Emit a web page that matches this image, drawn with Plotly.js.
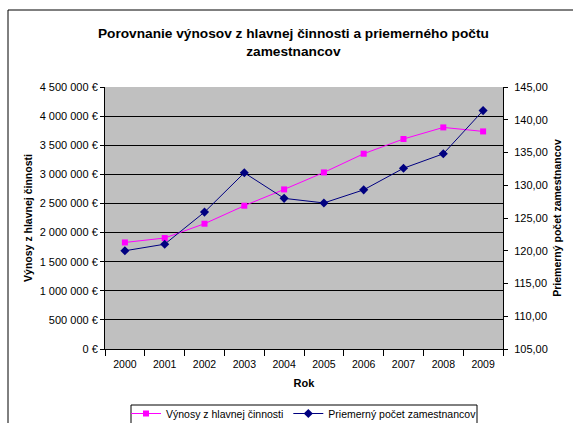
<!DOCTYPE html>
<html>
<head>
<meta charset="utf-8">
<script src="https://cdn.plot.ly/plotly-3.0.1.min.js"></script>
<style>html,body{margin:0;padding:0;background:#fff;}#chart{width:573px;height:423px;}</style>
</head>
<body>
<div id="chart"></div>
<script>
const years = ['2000','2001','2002','2003','2004','2005','2006','2007','2008','2009'];
const revenues = [1830000, 1906000, 2152000, 2461000, 2741000, 3033000, 3354000, 3607000, 3806000, 3737000];
const employees = [120.0, 121.0, 125.9, 131.9, 128.0, 127.3, 129.3, 132.6, 134.8, 141.4];
const seriesNames = ['Výnosy z hlavnej činnosti', 'Priemerný počet zamestnancov'];

const FONT = 'Liberation Sans, Arial, sans-serif';
const L = 105, R = 503, T = 87, B = 349;
const W = 573, H = 423;
const pw = R - L, ph = B - T;

const traces = [
  {
    x: years, y: revenues, name: seriesNames[0], type: 'scatter', mode: 'lines+markers',
    line: {color: '#FF00FF', width: 1},
    marker: {symbol: 'square', size: 6, color: '#FF00FF'},
    yaxis: 'y'
  },
  {
    x: years, y: employees, name: seriesNames[1], type: 'scatter', mode: 'lines+markers',
    line: {color: '#000080', width: 1},
    marker: {symbol: 'diamond', size: 7, color: '#000080'},
    yaxis: 'y2'
  }
];

const layout = {
  width: W, height: H,
  margin: {l: L, r: W - R, t: T, b: H - B, pad: 0, autoexpand: false},
  paper_bgcolor: '#FFFFFF',
  plot_bgcolor: '#C0C0C0',
  separators: ', ',
  font: {family: FONT, size: 10, color: '#000'},
  showlegend: true,
  title: {
    text: '<b>Porovnanie výnosov z hlavnej činnosti a priemerného počtu<br>zamestnancov</b>',
    font: {family: FONT, size: 13.7, color: '#000'},
    x: 0.512, xanchor: 'center', xref: 'container',
    y: 1 - 38 / H, yanchor: 'middle', yref: 'container'
  },
  xaxis: {
    type: 'category',
    range: [-0.5, 9.5],
    tickson: 'boundaries',
    ticks: 'outside', ticklen: 6, tickcolor: '#000',
    ticklabelstandoff: 5,
    showline: true, linecolor: '#000', linewidth: 1,
    showgrid: false, zeroline: false,
    tickfont: {family: FONT, size: 10.5},
    automargin: false,
    title: {text: '<b>Rok</b>', font: {family: FONT, size: 11}, standoff: 10}
  },
  yaxis: {
    range: [0, 4500000], dtick: 500000, tick0: 0,
    tickformat: ',.0f', ticksuffix: ' €',
    ticks: 'outside', ticklen: 4, tickcolor: '#000',
    showline: true, linecolor: '#000', linewidth: 1,
    showgrid: true, gridcolor: '#000', gridwidth: 1,
    zeroline: false, automargin: false,
    tickfont: {family: FONT, size: 11},
    title: {text: '<b>Výnosy z hlavnej činnosti</b>', font: {family: FONT, size: 10.5}, standoff: 4}
  },
  yaxis2: {
    overlaying: 'y', side: 'right',
    range: [105, 145], dtick: 5, tick0: 105,
    tickformat: '.2f',
    ticks: 'outside', ticklen: 4, tickcolor: '#000',
    ticklabelstandoff: 4,
    showline: true, linecolor: '#000', linewidth: 1,
    showgrid: false, zeroline: false, automargin: false,
    tickfont: {family: FONT, size: 11},
    title: {text: '<b>Priemerný počet zamestnancov</b>', font: {family: FONT, size: 10.5}, standoff: 6}
  },
  legend: {
    orientation: 'h',
    x: (304 - L) / pw, xanchor: 'center',
    y: (B - 399) / ph, yanchor: 'top',
    bgcolor: 'rgba(0,0,0,0)', borderwidth: 0,
    font: {family: FONT, size: 10.5},
    itemwidth: 30, tracegroupgap: 0
  },
  shapes: [
    {
      type: 'rect', xref: 'paper', yref: 'paper',
      x0: (8 - L) / pw, x1: (580 - L) / pw,
      y0: (B - 430) / ph, y1: (B - 10) / ph,
      line: {color: '#000', width: 1}, fillcolor: 'rgba(0,0,0,0)', layer: 'below'
    },
    {
      type: 'rect', xref: 'paper', yref: 'paper',
      x0: (131 - L) / pw, x1: (477 - L) / pw,
      y0: (B - 432) / ph, y1: (B - 405) / ph,
      line: {color: '#000', width: 1}, fillcolor: '#FFFFFF', layer: 'below'
    }
  ]
};

Plotly.newPlot('chart', traces, layout, {displayModeBar: false, staticPlot: true});
</script>
</body>
</html>
